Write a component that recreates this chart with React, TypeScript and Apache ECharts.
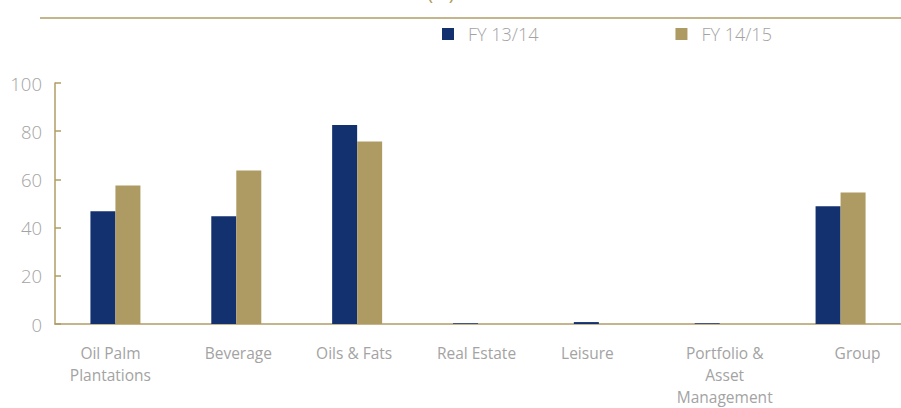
import React, { useEffect, useRef } from "react";
import * as echarts from "echarts";

const categories = [
  "Oil Palm\nPlantations",
  "Beverage",
  "Oils & Fats",
  "Real Estate",
  "Leisure",
  "Portfolio &\nAsset\nManagement",
  "Group",
];
const fy1314 = [46.8, 44.7, 82.6, 0.3, 0.8, 0.3, 48.9];
const fy1415 = [57.5, 63.7, 75.7, 0, 0, 0, 54.6];
const seriesNames = ["FY 13/14", "FY 14/15"];
const yTicks = { min: 0, max: 100, interval: 20 };
// horizontal nudge of each category label relative to its bar pair (px)
const labelShift = [-5, 2, -3, -1.5, -11.5, 5, 17];

const BLUE = "#13316f";
const GOLD = "#ae9a63";
const AXIS = "#b29d66";
const TEXT = "#a3a3a3";
const XFONT = "'Open Sans', sans-serif";
const XSIZE = 15.5;

export default function App() {
  const ref = useRef<HTMLDivElement>(null);
  useEffect(() => {
    document.body.style.margin = "0";
    const chart = echarts.init(ref.current!, null, { renderer: "svg" });
    const rich: Record<string, any> = {};
    labelShift.forEach((s, i) => {
      rich["c" + i] = {
        color: TEXT,
        fontSize: XSIZE,
        lineHeight: 22,
        fontFamily: XFONT,
        padding: s >= 0 ? [0, 0, 0, 2 * s] : [0, -2 * s, 0, 0],
      };
    });
    chart.setOption({
      animation: false,
      graphic: [
        {
          type: "line",
          shape: { x1: 40, y1: 18, x2: 901, y2: 18 },
          style: { stroke: AXIS, lineWidth: 1.6 },
        },
        {
          type: "text",
          x: 441,
          y: 2,
          style: {
            text: "(%)",
            fontSize: 19,
            fontFamily: "'Open Sans', sans-serif",
            fill: GOLD,
            textAlign: "center",
            textVerticalAlign: "bottom",
          },
        },
      ],
      legend: {
        left: 442,
        top: 25,
        padding: 0,
        icon: "rect",
        itemWidth: 12,
        itemHeight: 12,
        itemGap: 137,
        data: seriesNames,
        textStyle: {
          color: TEXT,
          fontSize: 18,
          fontFamily: "'Open Sans', sans-serif",
          fontWeight: 300,
          padding: [0, 0, 0, 9],
        },
      },
      grid: { left: 55, right: 0, top: 83, bottom: 82.5, containLabel: false },
      xAxis: {
        type: "category",
        data: categories,
        axisLine: { lineStyle: { color: AXIS, width: 1.5 } },
        axisTick: { show: false },
        axisLabel: {
          color: TEXT,
          fontSize: XSIZE,
          lineHeight: 22,
          margin: 18,
          interval: 0,
          fontFamily: XFONT,
          formatter: (value: string, idx: number) =>
            value
              .split("\n")
              .map((l) => `{c${idx}|${l}}`)
              .join("\n"),
          rich,
        },
      },
      yAxis: {
        type: "value",
        min: yTicks.min,
        max: yTicks.max,
        interval: yTicks.interval,
        axisLine: { show: true, lineStyle: { color: AXIS, width: 1.5 } },
        axisTick: { show: true, inside: true, length: 6, lineStyle: { color: AXIS, width: 1.5 } },
        splitLine: { show: false },
        axisLabel: {
          color: TEXT,
          fontSize: 18.5,
          margin: 13,
          fontFamily: "'Open Sans', sans-serif",
          fontWeight: 300,
        },
      },
      series: [
        {
          name: seriesNames[0],
          type: "bar",
          data: fy1314,
          barWidth: 25,
          barGap: "0%",
          itemStyle: { color: BLUE },
        },
        {
          name: seriesNames[1],
          type: "bar",
          data: fy1415,
          barWidth: 25,
          barGap: "0%",
          itemStyle: { color: GOLD },
        },
      ],
    });
    return () => chart.dispose();
  }, []);
  return (
    <div
      ref={ref}
      style={{ position: "absolute", left: 0, top: 0, width: 901, height: 408 }}
    />
  );
}
